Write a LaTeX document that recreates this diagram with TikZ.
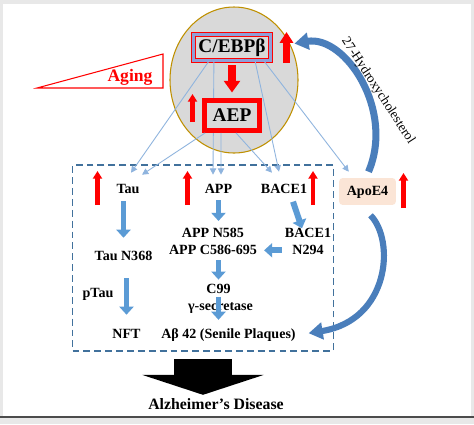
\documentclass[tikz,border=0pt]{standalone}
\usepackage{fontspec}
\setmainfont{Liberation Serif}
\usetikzlibrary{arrows.meta, calc}

\definecolor{hubgray}{HTML}{D9D9D9}
\definecolor{hubline}{HTML}{BF9000}
\definecolor{boxblue}{HTML}{41719C}
\definecolor{flowblue}{HTML}{5B9BD5}
\definecolor{curveblue}{HTML}{4A7EBB}
\definecolor{thinblue}{HTML}{8FB4DE}
\definecolor{apoefill}{HTML}{FBE5D6}
\definecolor{cebpband}{HTML}{8F9FD8}
\definecolor{upred}{HTML}{FF0000}

\tikzset{
	lbl/.style={font=\bfseries\fontsize{8}{9.6}\selectfont, inner sep=1pt, text height=6pt, text depth=1.5pt},
	lbltwo/.style={font=\bfseries\fontsize{8}{9.6}\selectfont, inner sep=1pt, align=center},
	uparrow/.style={upred, line width=2.8pt, -{Triangle[width=5.2pt,length=4.4pt]}},
	flow/.style={flowblue, line width=3.4pt, -{Triangle[width=8pt,length=4.6pt]}},
	hint/.style={thinblue, line width=0.5pt, -{Triangle[width=3.6pt,length=3.6pt]}},
	bendarrow/.style={curveblue, line width=4pt, -{Triangle[width=9.5pt,length=8pt]}}
}

\begin{document}
\begin{tikzpicture}[x=0.02cm, y=-0.02cm]
	\useasboundingbox (0,0) rectangle (474,424);
	\fill[gray!18] (0,0) rectangle (474,424);
	\fill[white] (3,4) rectangle (471,416);
	\draw[black!70, line width=0.8pt] (0,417) -- (474,417);

	% labels in the dashed box
	\node[lbl] (tau) at (128,190) {Tau};
	\node[lbl] (app) at (218.5,190) {APP};
	\node[lbl] (bace) at (284,190) {BACE1};
	\node[lbl] (taun) at (123.5,257) {Tau N368};
	\node[lbltwo] (appn) at (213,241.5) {APP N585\\APP C586-695};
	\node[lbltwo] (bacen) at (308,241.5) {BACE1\\N294};
	\node[lbl] (ptau) at (98,294) {pTau};
	\node[lbl, text depth=0.5pt] (c99) at (218.5,289) {C99};
	\node[lbl] (gsec) at (220.5,307) {γ-secretase};
	\node[lbl] (nft) at (126.5,335) {NFT};
	\node[lbl] (ab) at (228.5,335) {Aβ 42 (Senile Plaques)};
	\node[lbl, fill=apoefill, rounded corners=2pt, minimum width=32.3pt, minimum height=15.3pt] (apoe) at (367.5,191.5) {ApoE4};
	\node[draw=boxblue, line width=1pt, dash pattern=on 3.9pt off 2.3pt, minimum width=148.5pt, minimum height=105.5pt, inner sep=0] (box) at (203,258) {};
	\node[font=\bfseries\fontsize{9}{11}\selectfont, inner sep=1pt, text height=6.5pt, text depth=1.5pt] (ad) at (216,405) {Alzheimer’s Disease};

	% aging
	\draw[upred, line width=0.6pt] (37,88) -- (163,54) -- (163,88) -- cycle;
	\node[font=\bfseries\fontsize{10}{12}\selectfont, text=upred] (aging) at (130,77) {Aging};

	% hub
	\draw[hubline, fill=hubgray, line width=0.6pt] (234,80) ellipse [x radius=64, y radius=73];
	\node[draw=upred, double=cebpband, double distance=1.6pt, line width=0.5pt, fill=hubgray, minimum width=44pt, minimum height=15pt, inner sep=0, font=\bfseries\fontsize{11}{13}\selectfont] (cebp) at (232,47.5) {C/EBPβ};
	\draw[hint] ($(cebp.south west)+(16,0)$) -- ($(tau.north)+(3,-8.6)$);
	\draw[hint] ($(cebp.south west)+(21,0)$) -- ($(app.north)+(-5.5,-6.6)$);
	\draw[hint] ($(cebp.south east)+(-16,0)$) -- ($(bace.north)+(-5,-9.6)$);
	\draw[hint] ($(cebp.south east)+(-7,0)$) -- ($(apoe.north west)+(10,-6)$);
	\node[draw=upred, line width=3pt, fill=hubgray, minimum width=31pt, minimum height=16.8pt, inner sep=0, font=\bfseries\fontsize{11}{13}\selectfont] (aep) at (232,115.5) {AEP};
	\draw[hint] ($(aep.south west)+(3,0)$) -- ($(tau.north)+(14,-6.6)$);
	\draw[hint] ($(aep.south)+(-11,0)$) -- ($(app.north)+(2.5,-6.6)$);
	\draw[hint] ($(aep.south)+(4,0)$) -- ($(bace.north)+(-12,-8.6)$);
	\draw[uparrow, line width=4.4pt, -{Triangle[width=9pt,length=6.6pt]}, shorten <=2.4pt, shorten >=3.2pt] (cebp) -- (aep);

	% red up arrows
	\draw[uparrow, line width=4.5pt, -{Triangle[width=7.5pt,length=6.2pt]}] (286.5,63) -- (286.5,32);
	\draw[uparrow, line width=2.3pt] (192.5,122) -- (192.5,94);
	\draw[uparrow] (97.5,205) -- (97.5,171);
	\draw[uparrow] (187.5,205) -- (187.5,171);
	\draw[uparrow] (313,205) -- (313,171);
	\draw[uparrow] (403.5,208) -- (403.5,173);

	% pathway
	\draw[flow, shorten <=1.5pt, shorten >=6pt] (taun.north |- tau.south) -- (taun.north);
	\draw[flow, shorten <=7pt, shorten >=6.6pt] (nft.north |- taun.south) -- (nft.north);
	\draw[flow, shorten <=1pt, shorten >=3pt] (app.south) -- (app.south |- appn.north);
	\draw[flow, shorten <=2pt, shorten >=0.9pt] (c99.north |- appn.south) -- (c99.north);
	\draw[flow, shorten >=3.7pt] (c99.south) -- (c99.south |- ab.north);
	\draw[flow] ($(bace.south)+(9,3)$) -- ($(bacen.north)+(-6,2)$);
	\draw[flow, shorten <=0.6pt, shorten >=2.9pt] ([yshift=-5pt]bacen.west) -- ([yshift=-5pt]bacen.west -| appn.east);

	% apoe4 curves
	\draw[bendarrow, shorten >=13.5pt] ($(apoe.north)+(1,-6)$) .. controls (395,110) and (345,35) .. (cebp.east);
	\node[rotate=-57, font=\fontsize{7.6}{9}\selectfont, inner sep=0.5pt] (chol) at (378,91) {27-Hydroxycholesterol};
	\draw[bendarrow, line width=3.5pt, shorten >=6.3pt] ($(apoe.south)+(3,10)$) .. controls (395,240) and (390,320) .. (ab.east);

	% outcome
	\draw[black, line width=33.5pt, -{Triangle[width=68.6pt,length=11.3pt]}, shorten >=0.6pt] ([yshift=-4.5pt]box.south) -- (box.south |- ad.north);
\end{tikzpicture}
\end{document}
